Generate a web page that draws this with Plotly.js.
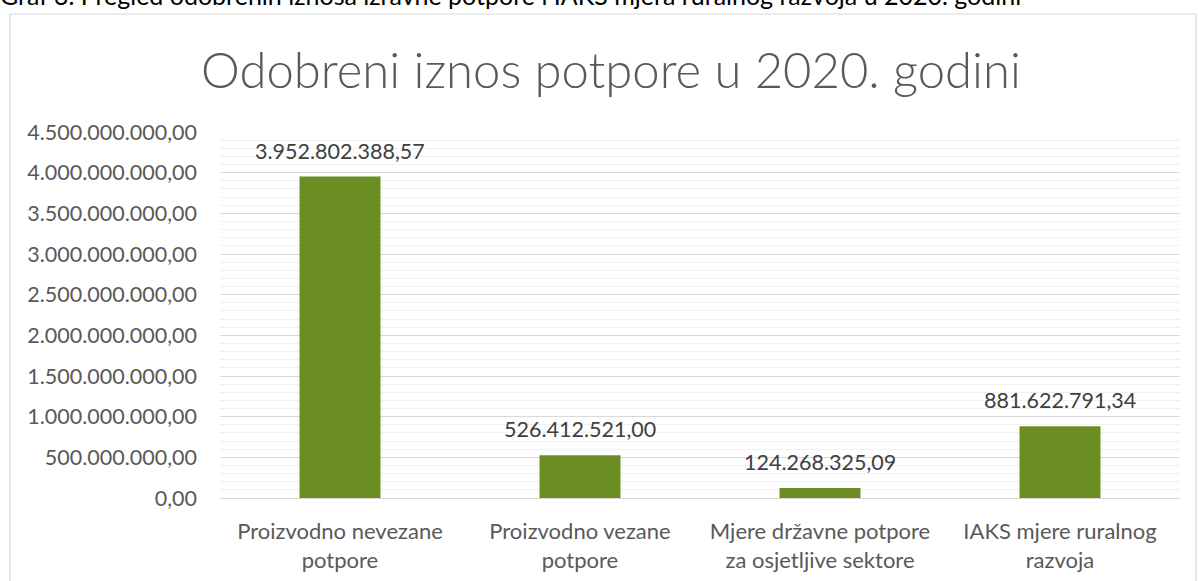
<!DOCTYPE html>
<html>
<head>
<meta charset="utf-8">
<script src="https://cdn.plot.ly/plotly-3.0.1.min.js"></script>
<style>html,body{margin:0;padding:0;background:#fff;}#chart{width:1198px;height:581px;}</style>
</head>
<body>
<div id="chart"></div>
<script>
const categories = [
  "Proizvodno nevezane<br>potpore",
  "Proizvodno vezane<br>potpore",
  "Mjere državne potpore<br>za osjetljive sektore",
  "IAKS mjere ruralnog<br>razvoja"
];
const values = [3952802388.57, 526412521.00, 124268325.09, 881622791.34];
const tickValues = [0, 500000000, 1000000000, 1500000000, 2000000000, 2500000000, 3000000000, 3500000000, 4000000000, 4500000000];
const tickLabels = ["0,00", "500.000.000,00", "1.000.000.000,00", "1.500.000.000,00", "2.000.000.000,00", "2.500.000.000,00", "3.000.000.000,00", "3.500.000.000,00", "4.000.000.000,00", "4.500.000.000,00"];
const chartTitle = "Odobreni iznos potpore u 2020. godini";
const captionText = "Graf 3. Pregled odobrenih iznosa izravne potpore i IAKS mjera ruralnog razvoja u 2020. godini";

function fmtHr(v) {
  const parts = v.toFixed(2).split(".");
  const intPart = parts[0].replace(/\B(?=(\d{3})+(?!\d))/g, ".");
  return intPart + "," + parts[1];
}

const FONT = "Lato, 'Open Sans', sans-serif";

const trace = {
  type: "bar",
  x: categories,
  y: values,
  marker: { color: "#6b8e23" },
  hoverinfo: "none"
};

const labelAnnotations = categories.map((c, i) => ({
  x: c, y: values[i], xref: "x", yref: "y",
  text: fmtHr(values[i]),
  showarrow: false,
  yanchor: "bottom",
  yshift: 11,
  font: { family: FONT, size: 21.5, color: "#404040" }
}));

const layout = {
  width: 1198,
  height: 581,
  margin: { l: 220, r: 18, t: 132, b: 83 },
  paper_bgcolor: "#ffffff",
  plot_bgcolor: "#ffffff",
  showlegend: false,
  bargap: 0.6625,
  title: {
    text: chartTitle,
    font: { family: FONT, size: 49, color: "#595959", weight: 300 },
    x: 0.51, xanchor: "center",
    y: 1 - 71 / 581, yanchor: "middle", yref: "container"
  },
  xaxis: {
    type: "category",
    showgrid: false,
    showline: true,
    linecolor: "#d9d9d9",
    linewidth: 1,
    ticks: "",
    ticklabelstandoff: 14,
    tickfont: { family: FONT, size: 22, color: "#595959" },
    fixedrange: true
  },
  yaxis: {
    range: [0, 4500000000],
    tickmode: "array",
    tickvals: tickValues,
    ticktext: tickLabels,
    showgrid: true,
    gridcolor: "#d9d9d9",
    gridwidth: 1,
    zeroline: false,
    showline: false,
    ticks: "",
    ticklabelstandoff: 22,
    tickfont: { family: FONT, size: 21.5, color: "#595959" },
    minor: { dtick: 100000000, showgrid: true, gridcolor: "#f0f0f0", gridwidth: 1, ticks: "" },
    fixedrange: true
  },
  shapes: [
    {
      type: "rect", xref: "paper", yref: "paper",
      x0: (10 - 220) / 960, x1: (1196 - 220) / 960,
      y0: (498 - 600) / 366, y1: (498 - 14) / 366,
      line: { color: "#d9d9d9", width: 1.2 },
      fillcolor: "rgba(0,0,0,0)",
      layer: "below"
    }
  ],
  annotations: labelAnnotations.concat([
    {
      xref: "paper", yref: "paper",
      x: (-2 - 220) / 960, xanchor: "left",
      y: (498 - 12) / 366, yanchor: "bottom",
      text: captionText,
      showarrow: false,
      font: { family: FONT, size: 25, color: "#000000" }
    }
  ])
};

Plotly.newPlot("chart", [trace], layout, { displayModeBar: false, staticPlot: true });
</script>
</body>
</html>
